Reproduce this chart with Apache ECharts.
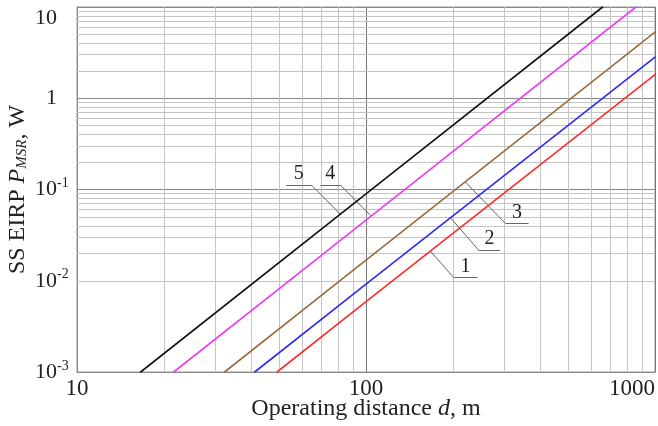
<!DOCTYPE html>
<html>
<head>
<meta charset="utf-8">
<script src="https://cdn.jsdelivr.net/npm/echarts@6/dist/echarts.min.js"></script>
<style>html,body{margin:0;padding:0;background:#fff}#c{width:658px;height:426px}</style>
</head>
<body>
<div id="c"></div>
<script>
// ---- data ----
const curve1 = [[49.2, 0.001], [100, 0.00589], [1000, 1.81]];   // red
const curve2 = [[41.2, 0.001], [100, 0.0092], [1000, 2.82]];    // blue
const curve3 = [[32.4, 0.001], [100, 0.0168], [1000, 5.32]];    // brown
const curve4 = [[21.6, 0.001], [100, 0.0462], [859, 10]];       // magenta
const curve5 = [[16.6, 0.001], [100, 0.0896], [659, 10]];       // black
const curveNames = ['1', '2', '3', '4', '5'];

const xMinorTicks = [20, 30, 40, 50, 60, 70, 80, 90, 200, 300, 400, 500, 600, 700, 800, 900];
const yMinorTicks = [0.002, 0.003, 0.004, 0.005, 0.006, 0.007, 0.008, 0.009,
                     0.02, 0.03, 0.04, 0.05, 0.06, 0.07, 0.08, 0.09,
                     0.2, 0.3, 0.4, 0.5, 0.6, 0.7, 0.8, 0.9,
                     2, 3, 4, 5, 6, 7, 8, 9];

// callouts: [label, underline start, underline end, point on curve]
const callout1 = ['1', [201, 0.01086], [243.3, 0.01086], [166.9, 0.0212]];
const callout2 = ['2', [245.2, 0.0217], [291.5, 0.0217], [195.7, 0.0493]];
const callout3 = ['3', [303.4, 0.0426], [365.2, 0.0426], [220.6, 0.121]];
const callout4 = ['4', [69.5, 0.112], [81.5, 0.112], [104.2, 0.0512]];
const callout5 = ['5', [53.0, 0.112], [64.7, 0.112], [81.5, 0.0537]];

const FONT = '"Liberation Serif", "DejaVu Serif", serif';
const TXT = '#222';

const chart = echarts.init(document.getElementById('c'), null, {renderer: 'canvas'});

function leaderData(c, startSide) {
  const attach = startSide ? c[1] : c[2];
  return [
    [{coord: c[1], label: {show: true, formatter: c[0]}}, {coord: c[2]}],
    [{coord: attach, label: {show: false}}, {coord: c[3]}]
  ];
}

const calloutLines = []
  .concat(leaderData(callout1, true))
  .concat(leaderData(callout2, true))
  .concat(leaderData(callout3, true))
  .concat(leaderData(callout4, false))
  .concat(leaderData(callout5, false));

function curveSeries(name, data, color) {
  return {name: name, type: 'line', data: data, showSymbol: false, symbol: 'none', z: 10,
    clip: true, lineStyle: {color: color, width: 1.6, type: 'solid', cap: 'round', join: 'round'}};
}

const option = {
  animation: false,
  backgroundColor: '#fff',
  textStyle: {fontFamily: FONT},
  grid: {left: 77, top: 7, right: 3, bottom: 54, show: true, borderColor: '#999', borderWidth: 1,
    backgroundColor: 'transparent', containLabel: false, outerBoundsMode: 'none'},
  xAxis: {
    type: 'log', logBase: 10, min: 10, max: 1000,
    name: '{n|Operating distance }{i|d}{n|, m}',
    nameLocation: 'middle', nameGap: 25, nameMoveOverlap: false,
    nameTextStyle: {fontFamily: FONT, rich: {
      n: {fontFamily: FONT, fontSize: 24, color: TXT},
      i: {fontFamily: FONT, fontSize: 24, color: TXT, fontStyle: 'italic'}
    }},
    axisLine: {show: true, lineStyle: {color: '#888', width: 1}},
    axisTick: {show: false},
    splitLine: {show: true, lineStyle: {color: '#777', width: 1}},
    axisLabel: {fontFamily: FONT, fontSize: 23, color: TXT, margin: 5, alignMaxLabel: 'right',
      formatter: v => String(Math.round(v))}
  },
  yAxis: {
    type: 'log', logBase: 10, min: 0.001, max: 10,
    name: '{n|SS EIRP }{i|P}{s|MSR}{n|, W}',
    nameLocation: 'middle', nameGap: 47, nameMoveOverlap: false,
    nameTextStyle: {fontFamily: FONT, rich: {
      n: {fontFamily: FONT, fontSize: 24, color: TXT},
      i: {fontFamily: FONT, fontSize: 24, color: TXT, fontStyle: 'italic'},
      s: {fontFamily: FONT, fontSize: 15, color: TXT, fontStyle: 'italic', verticalAlign: 'bottom', padding: [10, 0, 0, 0]}
    }},
    axisLine: {show: true, lineStyle: {color: '#888', width: 1}},
    axisTick: {show: false},
    splitLine: {show: true, lineStyle: {color: '#888', width: 1}},
    axisLabel: {
      fontFamily: FONT, fontSize: 22, color: TXT, align: 'left', margin: 42,
      verticalAlignMaxLabel: 'top',
      formatter: v => {
        const e = Math.round(Math.log10(v));
        if (e === 1) return '{b|10}';
        if (e === 0) return '{one|1}';
        return '{b|10}{sup|' + e + '}';
      },
      rich: {
        b: {fontFamily: FONT, fontSize: 22, color: TXT},
        one: {fontFamily: FONT, fontSize: 22, color: TXT, padding: [0, 0, 0, 11]},
        sup: {fontFamily: FONT, fontSize: 14, color: TXT, verticalAlign: 'top', padding: [0, 0, 12, 0]}
      }
    }
  },
  series: [
    {
      name: 'grid', type: 'line', data: [], z: 1, silent: true,
      markLine: {
        silent: true, symbol: 'none', animation: false, z: 1,
        label: {show: false},
        lineStyle: {color: '#c4c4c4', width: 1, type: 'solid'},
        data: xMinorTicks.map(v => ({xAxis: v})).concat(yMinorTicks.map(v => ({yAxis: v})))
      }
    },
    {
      name: 'callouts', type: 'line', data: [], z: 3, silent: true,
      markLine: {
        silent: true, symbol: 'none', animation: false, z: 5,
        lineStyle: {color: '#666', width: 1, type: 'solid'},
        label: {show: false, position: 'insideMiddleTop', distance: 1, fontFamily: FONT, fontSize: 20, color: TXT},
        data: calloutLines
      }
    },
    curveSeries(curveNames[0], curve1, '#ff2b2b'),
    curveSeries(curveNames[1], curve2, '#2a2aff'),
    curveSeries(curveNames[2], curve3, '#9a6b40'),
    curveSeries(curveNames[3], curve4, '#f03cf0'),
    curveSeries(curveNames[4], curve5, '#111111')
  ]
};
chart.setOption(option);
</script>
</body>
</html>
